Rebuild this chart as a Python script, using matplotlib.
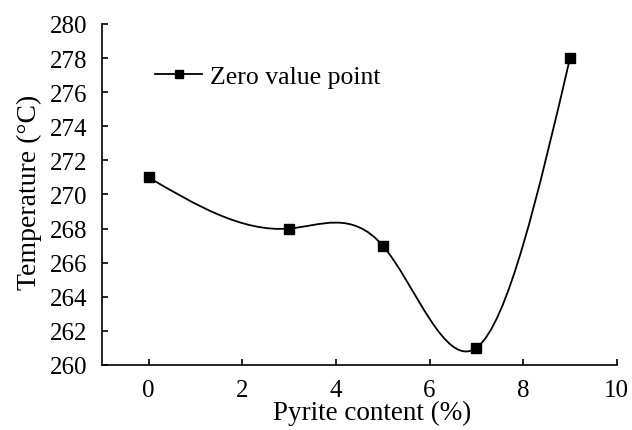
import numpy as np
import matplotlib.pyplot as plt
from matplotlib.path import Path
from matplotlib.patches import PathPatch
from matplotlib.lines import Line2D

plt.rcParams['font.family'] = ['Liberation Serif', 'DejaVu Serif']

# Data
pyrite = [0, 3, 5, 7, 9]
temperature = [271, 268, 267, 261, 278]
x_ticks = [0, 2, 4, 6, 8, 10]
y_ticks = [260, 262, 264, 266, 268, 270, 272, 274, 276, 278, 280]


# Natural cubic spline slopes, used to build a smooth bezier path
def spline_slopes(x, y):
    x = np.asarray(x, float)
    y = np.asarray(y, float)
    n = len(x)
    h = np.diff(x)
    d = np.diff(y) / h
    A = np.zeros((n, n))
    b = np.zeros(n)
    A[0, 0] = A[-1, -1] = 1
    for i in range(1, n - 1):
        A[i, i - 1] = h[i - 1]
        A[i, i] = 2 * (h[i - 1] + h[i])
        A[i, i + 1] = h[i]
        b[i] = 6 * (d[i] - d[i - 1])
    M = np.linalg.solve(A, b)
    s = np.zeros(n)
    for i in range(n - 1):
        s[i] = d[i] - h[i] * (2 * M[i] + M[i + 1]) / 6
    s[-1] = d[-1] + h[-1] * (M[-2] + 2 * M[-1]) / 6
    return s


def smooth_path(x, y):
    s = spline_slopes(x, y)
    verts = [(x[0], y[0])]
    codes = [Path.MOVETO]
    for i in range(len(x) - 1):
        h = x[i + 1] - x[i]
        verts += [(x[i] + h / 3, y[i] + h * s[i] / 3),
                  (x[i + 1] - h / 3, y[i + 1] - h * s[i + 1] / 3),
                  (x[i + 1], y[i + 1])]
        codes += [Path.CURVE4] * 3
    return Path(verts, codes)


fig = plt.figure(figsize=(6.32, 4.31), dpi=100)
ax = fig.add_axes([0.161, 0.151, 0.815, 0.791])

ax.add_patch(PathPatch(smooth_path(pyrite, temperature), fill=False,
                       edgecolor='black', linewidth=1.3))
ax.plot(pyrite, temperature, 's', color='black', markersize=6.5)

ax.set_xlim(-1, 10)
ax.set_ylim(260, 280)
ax.set_xticks(x_ticks)
ax.set_yticks(y_ticks)

for side in ['top', 'right']:
    ax.spines[side].set_visible(False)
for side in ['left', 'bottom']:
    ax.spines[side].set_linewidth(1.2)

ax.tick_params(direction='in', length=4.5, width=1.2, labelsize=18)
ax.tick_params(axis='y', pad=10)
ax.tick_params(axis='x', pad=10)

# axis titles placed like the original (x title sits a bit right of centre)
ax.set_xlabel('Pyrite content (%)', fontsize=19.5, va='center')
ax.xaxis.set_label_coords(0.524, -0.138)
ax.set_ylabel('Temperature (°C)', fontsize=20, va='center')
ax.yaxis.set_label_coords(-0.14, 0.51)

handle = Line2D([], [], color='black', marker='s', markersize=6, linewidth=1.3)
ax.legend([handle], ['Zero value point'], loc='upper left',
          bbox_to_anchor=(0.103, 0.880), frameon=False, fontsize=18.5,
          borderpad=0, borderaxespad=0, handlelength=1.85, handletextpad=0.3)

fig.savefig('out.png', dpi=100)
